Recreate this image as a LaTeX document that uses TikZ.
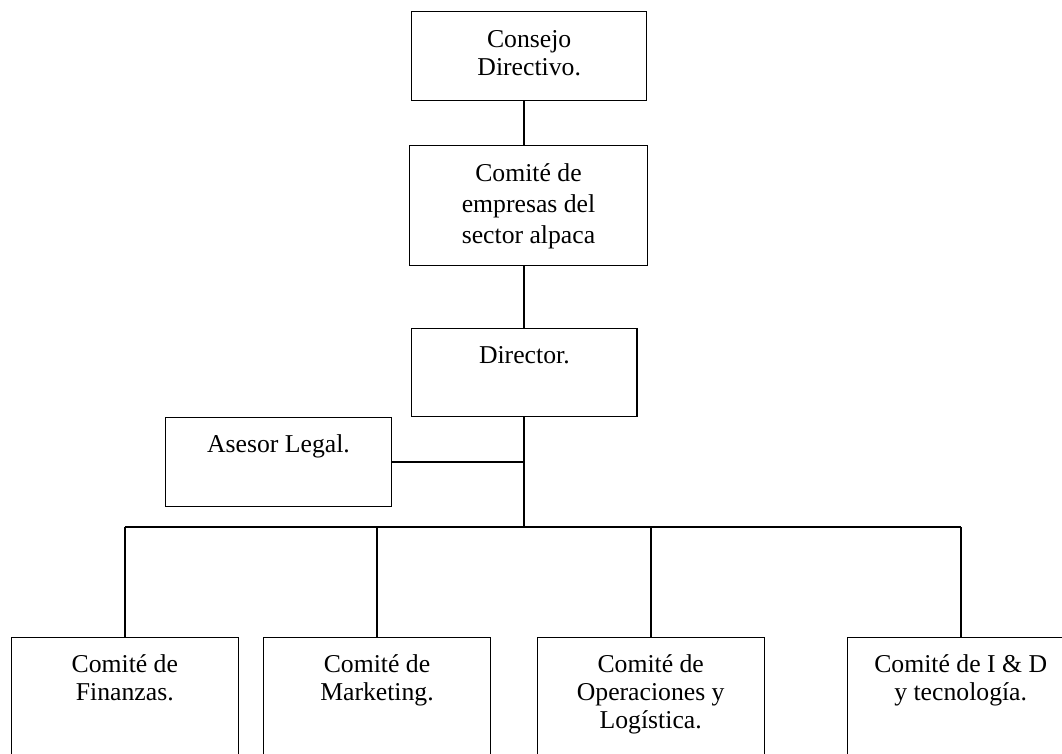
\documentclass[tikz,border=0pt]{standalone}
\usepackage{fontspec}
\setmainfont{Liberation Serif}
\newcommand\fl{\rule{0pt}{20pt}}
\begin{document}
\begin{tikzpicture}[x=1pt,y=-1pt,
  orgbox/.style={draw, line width=1.2pt, rectangle, inner sep=0pt, outer sep=0pt},
  lbl/.style={anchor=north, inner sep=0pt, align=center, font=\fontsize{25.7}{28}\selectfont},
  conn/.style={line width=1.6pt},
  trunk/.style={line width=2pt}]
\clip (0,0) rectangle (1062,753);
\fill[white] (0,0) rectangle (1062,753);
% boxes
\node[orgbox, minimum width=235pt, minimum height=89pt] (cd) at (529.2,56.2) {};
\node[orgbox, minimum width=238.4pt, minimum height=120pt] (ce) at (528.5,205.7) {};
\node[orgbox, minimum width=225.3pt, minimum height=88.4pt] (dir) at (524.35,372.5) {};
\node[orgbox, minimum width=225.6pt, minimum height=89.4pt] (al) at (278.5,462) {};
\node[orgbox, minimum width=227pt, minimum height=142.3pt] (fin) at (124.8,708.85) {};
\node[orgbox, minimum width=227pt, minimum height=142.3pt] (mkt) at (377,708.85) {};
\node[orgbox, minimum width=227pt, minimum height=142.3pt] (ope) at (650.7,708.85) {};
\node[orgbox, minimum width=227pt, minimum height=142.3pt] (idt) at (960.7,708.85) {};
% texts
\node[lbl] (cdt) at ([yshift=-16pt]cd.north) {\fl Consejo\\Directivo.};
\node[lbl, font=\fontsize{25.7}{31}\selectfont] (cet) at ([yshift=-16pt]ce.north) {\fl Comité de\\empresas del\\sector alpaca};
\node[lbl] (dirt) at ([yshift=-15pt]dir.north) {\fl Director.};
\node[lbl] (alt) at ([yshift=-14.5pt]al.north) {\fl Asesor Legal.};
\node[lbl] (fint) at ([yshift=-15pt]fin.north) {\fl Comité de\\Finanzas.};
\node[lbl] (mktt) at ([yshift=-15pt]mkt.north) {\fl Comité de\\Marketing.};
\node[lbl] (opet) at ([yshift=-15pt]ope.north) {\fl Comité de\\Operaciones y\\Logística.};
\node[lbl] (idtt) at ([yshift=-15pt]idt.north) {\fl Comité de I \& D\\y tecnología.};
% connectors
\coordinate (tx) at (524,0);
\coordinate (j) at (524,527);
\draw[conn] (cd.south -| tx) -- (ce.north -| tx);
\draw[conn] (ce.south -| tx) -- (dir.north -| tx);
\draw[trunk] (dir.south -| tx) -- (j);
\draw[conn] (al.east) -- (al.east -| tx);
\draw[conn] (fin.north |- j) -- (idt.north |- j);
\draw[conn] (fin.north |- j) -- (fin.north);
\draw[conn] (mkt.north |- j) -- (mkt.north);
\draw[conn] (ope.north |- j) -- (ope.north);
\draw[conn] (idt.north |- j) -- (idt.north);
\end{tikzpicture}
\end{document}
